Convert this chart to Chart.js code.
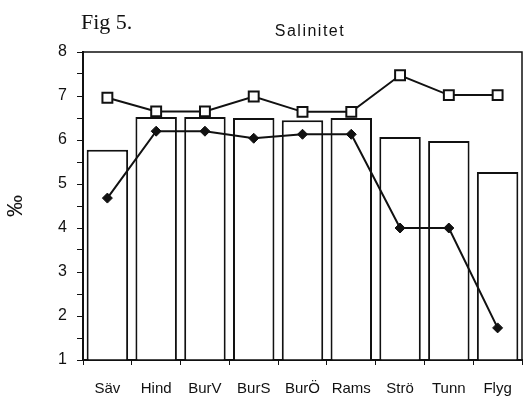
<!DOCTYPE html>
<html>
<head>
<meta charset="utf-8">
<script src="https://cdn.jsdelivr.net/npm/chart.js@4/dist/chart.umd.min.js"></script>
<style>
  body { margin: 0; background: #fff; }
  #wrap { position: relative; width: 531px; height: 402px; }
  #fig { position: absolute; left: 81px; top: 9px; font: 22px "Liberation Serif", serif; color: #111; }
  #titel { position: absolute; left: 200px; width: 220px; top: 22px; text-align: center; font: 16px "Liberation Sans", Arial, sans-serif; letter-spacing: 1.5px; color: #111; }
</style>
</head>
<body>
<div id="wrap">
  <canvas id="myChart" width="531" height="402"></canvas>
  <div id="fig">Fig 5.</div>
  <div id="titel">Salinitet</div>
</div>
<script>
let stationer = ["Säv", "Hind", "BurV", "BurS", "BurÖ", "Rams", "Strö", "Tunn", "Flyg"];
let staplar = [5.78, 6.52, 6.52, 6.5, 6.45, 6.5, 6.07, 5.98, 5.27];
let kvadrater = [6.96, 6.65, 6.65, 6.99, 6.64, 6.64, 7.47, 7.02, 7.02];
let ruter = [4.68, 6.2, 6.2, 6.04, 6.13, 6.13, 4.0, 4.0, 1.73];

// ram runt hela diagramytan (topp och höger saknas annars)
let ramPlugin = {
    id: 'ram',
    afterDraw(chart) {
        let a = chart.chartArea;
        let ctx = chart.ctx;
        ctx.save();
        ctx.strokeStyle = '#111';
        ctx.lineWidth = 1.5;
        ctx.beginPath();
        ctx.moveTo(a.left, a.top);
        ctx.lineTo(a.right, a.top);
        ctx.lineTo(a.right, a.bottom);
        ctx.stroke();
        ctx.restore();
    }
};

let ctx = document.getElementById('myChart').getContext('2d');
let chart = new Chart(ctx, {
    type: 'bar',
    data: {
        labels: stationer,
        datasets: [{
            type: 'line',
            data: kvadrater,
            borderColor: '#111',
            borderWidth: 2,
            pointStyle: 'rect',
            pointRadius: 7,
            pointBorderWidth: 2,
            pointBackgroundColor: '#fff',
            pointBorderColor: '#111',
            tension: 0,
            order: 1
        }, {
            type: 'line',
            data: ruter,
            borderColor: '#111',
            borderWidth: 2,
            pointStyle: 'rectRot',
            pointRadius: 5,
            pointBorderWidth: 1,
            pointBackgroundColor: '#111',
            pointBorderColor: '#111',
            tension: 0,
            order: 2
        }, {
            type: 'bar',
            data: staplar,
            backgroundColor: '#fff',
            borderColor: '#111',
            borderWidth: 2,
            categoryPercentage: 0.85,
            barPercentage: 1,
            base: 1,
            order: 3
        }]
    },
    options: {
        responsive: false,
        animation: false,
        devicePixelRatio: 1,
        layout: { padding: { top: 52, right: 2, left: 0, bottom: 0 } },
        plugins: {
            legend: { display: false },
            tooltip: { enabled: false }
        },
        scales: {
            x: {
                offset: true,
                grid: { offset: true, drawOnChartArea: false, tickLength: 5, color: '#111' },
                border: { color: '#111', width: 2 },
                ticks: { color: '#111', padding: 15, font: { family: 'Liberation Sans', size: 15 } },
                afterFit(scale) { scale.height = 42; }
            },
            y: {
                min: 1,
                max: 8,
                grid: { drawOnChartArea: false, tickLength: 6, color: '#111' },
                border: { color: '#111', width: 2 },
                ticks: {
                    stepSize: 0.5,
                    autoSkip: false,
                    color: '#111',
                    padding: 10,
                    font: { family: 'Liberation Sans', size: 16 },
                    callback: v => Number.isInteger(v) ? v : ''
                },
                title: {
                    display: true,
                    text: '‰',
                    color: '#111',
                    padding: 3,
                    font: { family: 'Liberation Sans', size: 22 }
                },
                afterFit(scale) { scale.width = 83; }
            }
        }
    },
    plugins: [ramPlugin]
});
</script>
</body>
</html>
